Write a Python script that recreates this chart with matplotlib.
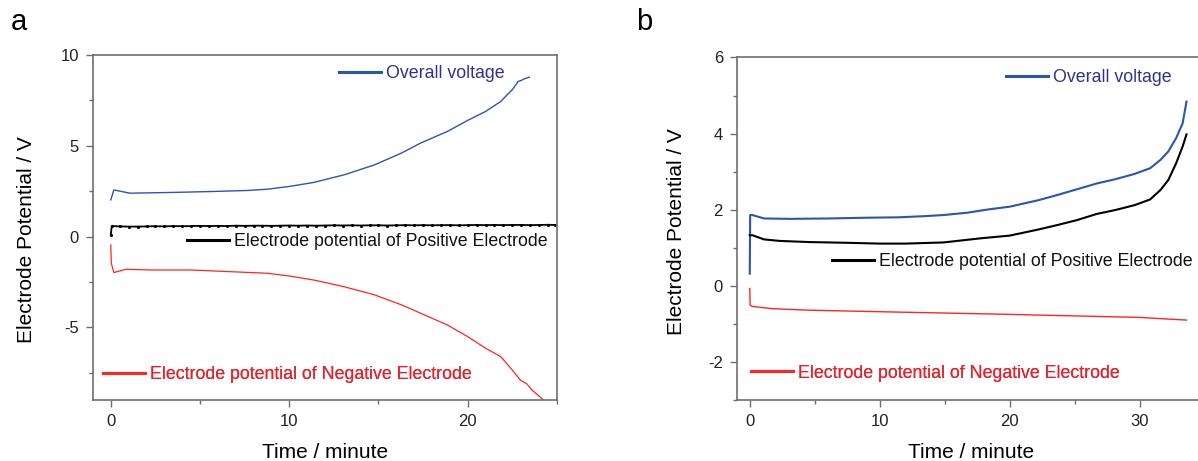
import numpy as np
import matplotlib.pyplot as plt
from matplotlib.ticker import MultipleLocator

plt.rcParams['font.family'] = ['Liberation Sans', 'DejaVu Sans']
plt.rcParams['axes.unicode_minus'] = False

# ---- panel a data (time in minutes, potential in V) ----
t_overall_a = [0, 0.17, 1.07, 3.4, 5.57, 7.7, 8.78, 10.0, 11.36, 13.07, 14.78, 16.29,
               17.36, 18.86, 20.0, 21.0, 21.85, 22.3, 22.5, 22.65, 22.82, 23.0, 23.2, 23.46]
v_overall_a = [2.02, 2.57, 2.39, 2.43, 2.48, 2.54, 2.61, 2.76, 2.98, 3.40, 3.95, 4.60,
               5.15, 5.79, 6.40, 6.89, 7.44, 7.9, 8.09, 8.3, 8.54, 8.6, 8.7, 8.78]

t_pos_a = [0, 0.05, 0.5, 1.0, 1.5, 2.0, 2.5, 3.0, 3.5, 4.0, 4.5, 5.0, 5.5, 6.0, 6.5, 7.0,
           7.5, 8.0, 8.5, 9.0, 9.5, 10.0, 10.5, 11.0, 11.5, 12.0, 12.5, 13.0, 13.5, 14.0,
           14.5, 15.0, 15.5, 16.0, 16.5, 17.0, 17.5, 18.0, 18.5, 19.0, 19.5, 20.0, 20.5,
           21.0, 21.5, 22.0, 22.5, 23.0, 23.5, 24.0, 24.5, 24.9]
v_pos_a = [0.1, 0.58, 0.56, 0.55, 0.55, 0.56, 0.57, 0.56, 0.58, 0.57, 0.58, 0.59, 0.58,
           0.59, 0.58, 0.6, 0.59, 0.6, 0.6, 0.59, 0.6, 0.61, 0.6, 0.61, 0.6, 0.61, 0.62,
           0.61, 0.62, 0.61, 0.62, 0.62, 0.61, 0.62, 0.63, 0.62, 0.63, 0.62, 0.63, 0.63,
           0.62, 0.63, 0.64, 0.63, 0.64, 0.63, 0.64, 0.64, 0.63, 0.64, 0.65, 0.64]

t_neg_a = [0, 0.03, 0.17, 0.85, 2.35, 4.5, 6.64, 8.78, 10.0, 11.36, 13.07, 14.78, 16.29,
           17.36, 18.86, 20.0, 21.0, 21.85, 22.5, 22.95, 23.3, 23.6, 23.9, 24.25]
v_neg_a = [-0.46, -1.47, -1.98, -1.80, -1.84, -1.84, -1.93, -2.02, -2.17, -2.39, -2.76,
           -3.21, -3.76, -4.22, -4.87, -5.51, -6.15, -6.61, -7.35, -7.9, -8.1, -8.45,
           -8.7, -9.0]

# ---- panel b data ----
t_overall_b = [0, 0.03, 0.2, 1.1, 3.1, 6.1, 9.0, 11.4, 13.4, 14.9, 16.7, 18.4, 20.0, 22.2,
               23.7, 25.2, 26.7, 28.1, 29.6, 30.8, 31.6, 32.2, 32.8, 33.3, 33.6]
v_overall_b = [0.32, 1.86, 1.86, 1.77, 1.76, 1.77, 1.79, 1.80, 1.83, 1.86, 1.92, 2.01,
               2.08, 2.25, 2.39, 2.54, 2.69, 2.80, 2.94, 3.09, 3.31, 3.53, 3.88, 4.27, 4.84]

t_pos_b = [0, 0.2, 1.1, 2.3, 4.6, 7.6, 10.0, 12.0, 14.9, 17.8, 20.0, 22.2, 23.7, 25.2,
           26.7, 28.1, 29.6, 30.8, 31.6, 32.2, 32.8, 33.3, 33.6]
v_pos_b = [1.33, 1.33, 1.22, 1.18, 1.15, 1.13, 1.11, 1.11, 1.14, 1.25, 1.32, 1.48, 1.60,
           1.73, 1.89, 1.99, 2.12, 2.27, 2.52, 2.78, 3.22, 3.66, 3.98]

t_neg_b = [0, 0.03, 0.2, 1.7, 4.6, 10.0, 20.0, 30.0, 33.6]
v_neg_b = [-0.07, -0.51, -0.54, -0.60, -0.64, -0.68, -0.75, -0.83, -0.90]

labels = ['Overall voltage', 'Electrode potential of Positive Electrode',
          'Electrode potential of Negative Electrode']

blue = '#2a55b0'
red = '#ff2424'
black = '#000000'
text_colors = ['#2e3192', '#111111', '#e8202a']
spine_col = '#6e6e6e'

fig = plt.figure(figsize=(11.98, 4.61), dpi=100)
ax1 = fig.add_axes([0.0776, 0.1323, 0.3873, 0.7484])
ax2 = fig.add_axes([0.615, 0.1323, 0.3906, 0.743])

l1 = ax1.plot(t_overall_a, v_overall_a, color=blue, lw=1.0)[0]
l2 = ax1.plot(t_pos_a, v_pos_a, color=black, lw=1.3, marker='.', ms=2.5)[0]
l3 = ax1.plot(t_neg_a, v_neg_a, color=red, lw=0.9)[0]

m1 = ax2.plot(t_overall_b, v_overall_b, color=blue, lw=1.5)[0]
m2 = ax2.plot(t_pos_b, v_pos_b, color=black, lw=1.5)[0]
m3 = ax2.plot(t_neg_b, v_neg_b, color=red, lw=1.0)[0]


def style(ax, xlim, ylim, ymaj, ymin):
    ax.set_xlim(*xlim)
    ax.set_ylim(*ylim)
    ax.xaxis.set_major_locator(MultipleLocator(10))
    ax.xaxis.set_minor_locator(MultipleLocator(5))
    ax.yaxis.set_major_locator(MultipleLocator(ymaj))
    ax.yaxis.set_minor_locator(MultipleLocator(ymin))
    ax.tick_params(which='both', direction='out', color=spine_col, labelsize=12,
                   labelcolor='#222222', width=1)
    ax.tick_params(which='major', length=5, pad=5)
    ax.tick_params(which='minor', length=3)
    for s in ax.spines.values():
        s.set_color(spine_col)
        s.set_linewidth(1.2)
    ax.set_xlabel('Time / minute', fontsize=15)
    ax.set_ylabel('Electrode Potential / V', fontsize=15)


style(ax1, (-1, 25), (-9, 10), 5, 2.5)
style(ax2, (-1, 35), (-3, 6), 2, 1)
ax1.xaxis.set_label_coords(0.5, -0.125)
ax1.yaxis.set_label_coords(-0.123, 0.465)
ax2.xaxis.set_label_coords(0.5, -0.126)
ax2.yaxis.set_label_coords(-0.108, 0.491)

# legend-like labels, one per series
pos_a = [(0.530, 0.945), (0.2026, 0.458), (0.0216, 0.0725)]
pos_b = [(0.5754, 0.941), (0.2032, 0.403), (0.0306, 0.0788)]

for ax, lines, positions in [(ax1, [l1, l2, l3], pos_a), (ax2, [m1, m2, m3], pos_b)]:
    for line, lab, tc, p in zip(lines, labels, text_colors, positions):
        leg = ax.legend([line], [lab], loc='center left', bbox_to_anchor=p,
                        frameon=False, handlelength=2.36, handletextpad=0.28,
                        borderpad=0, borderaxespad=0, fontsize=12.8)
        for h in leg.legend_handles:
            h.set_linewidth(2.2)
            h.set_marker('')
        for txt in leg.get_texts():
            txt.set_color(tc)
        ax.add_artist(leg)

fig.text(11 / 1198, 1 - 30 / 461, 'a', fontsize=21, ha='left', va='baseline')
fig.text(636 / 1198, 1 - 30 / 461, 'b', fontsize=21, ha='left', va='baseline')

fig.savefig('out.png', dpi=100)
